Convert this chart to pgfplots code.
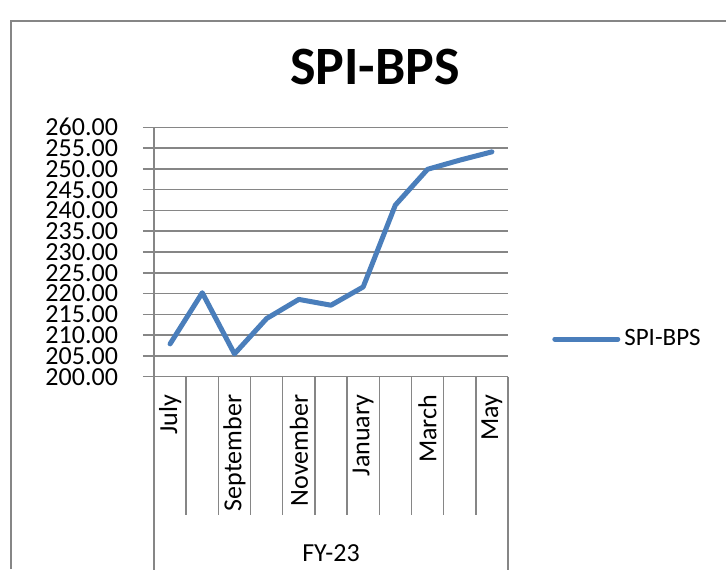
\documentclass[border=0pt]{standalone}
\usepackage{fontspec}
\setmainfont{Carlito}
\usepackage{pgfplots}
\pgfplotsset{compat=1.18}
\definecolor{lineblue}{HTML}{4A7EBB}
\definecolor{gridgray}{HTML}{868686}
\begin{document}
\begin{tikzpicture}
\useasboundingbox (0,0) rectangle (363pt,-284.5pt);
\draw[gridgray, line width=0.75pt] (5.5pt,-284.5pt) -- (5.5pt,-10.5pt) -- (363pt,-10.5pt);
\node[font=\fontsize{27}{30}\selectfont\bfseries] at (187.5pt,-33.5pt) {SPI-BPS};
\begin{axis}[
  at={(77pt,-188.35pt)}, anchor=south west,
  scale only axis, width=177pt, height=124.7pt,
  clip=false,
  xmin=-0.5, xmax=10.5, ymin=200, ymax=260,
  axis lines*=left,
  axis line style={-, gridgray, line width=0.75pt},
  ytick={200,205,...,260},
  ymajorgrids,
  grid style={gridgray, line width=0.75pt},
  tick style={gridgray, line width=0.75pt},
  tick align=outside,
  major tick length=5.5pt,
  minor tick length=69pt,
  xtick={0,...,10},
  xticklabels={July,,September,,November,,January,,March,,May},
  minor xtick={-0.5,0.5,...,10.5},
  every major x tick/.style={draw=none},
  /pgf/number format/assume math mode=true,
  yticklabel={\pgfmathprintnumber[fixed,fixed zerofill,precision=2]{\tick}},
  yticklabel style={font=\fontsize{13}{13}\selectfont, text=black, inner ysep=0pt, xshift=-9pt},
  xticklabel style={font=\fontsize{13}{13}\selectfont, text=black, rotate=90, anchor=east},
  legend style={at={(1.124,0.151)}, anchor=west, draw=none, fill=none, inner sep=0pt,
    font=\fontsize{12.5}{12.5}\selectfont},
  legend image code/.code={\draw[#1] (0pt,0pt) -- (31.5pt,0pt);},
]
\addplot[lineblue, line width=2.5pt, line join=round, line cap=round] coordinates {
(0,207.9) (1,220.2) (2,205.5) (3,214.0) (4,218.6) (5,217.2)
(6,221.6) (7,241.3) (8,249.9) (9,252.1) (10,254.1)};
\addlegendentry{SPI-BPS}
\draw[gridgray, line width=0.75pt] (rel axis cs:0,0) -- ([yshift=-96.5pt]rel axis cs:0,0);
\draw[gridgray, line width=0.75pt] (rel axis cs:1,0) -- ([yshift=-96.5pt]rel axis cs:1,0);
\node[font=\fontsize{13}{13}\selectfont] at ([yshift=-88pt]rel axis cs:0.5,0) {FY-23};
\end{axis}
\end{tikzpicture}
\end{document}
